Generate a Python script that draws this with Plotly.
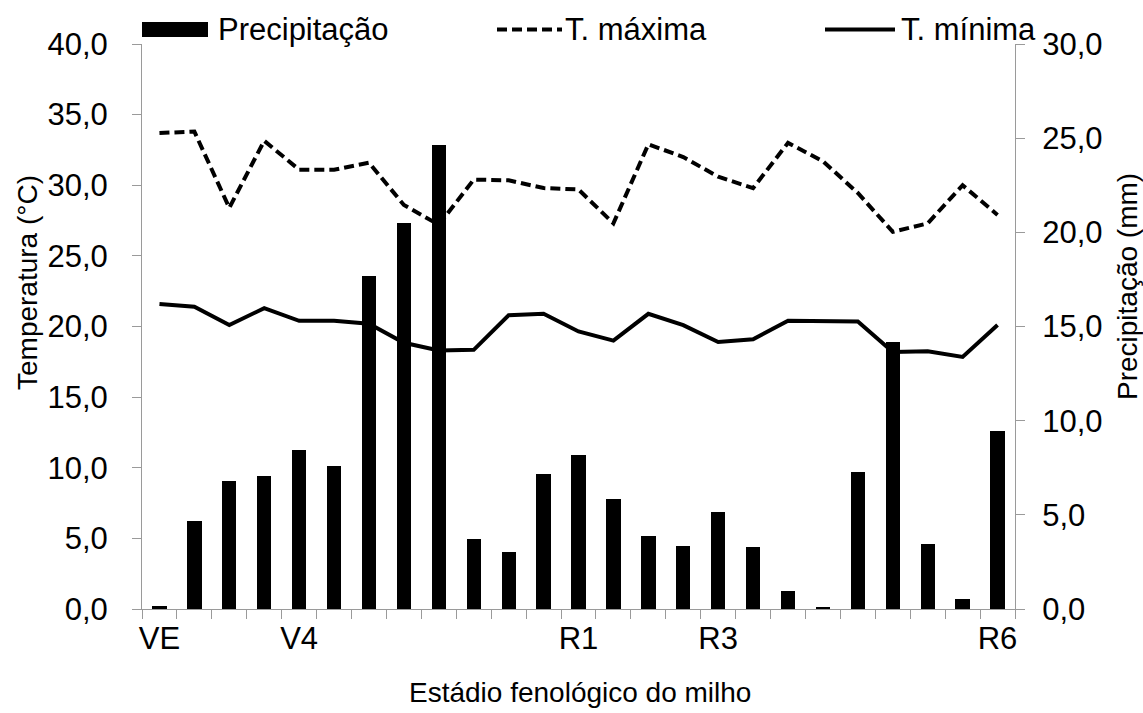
import plotly.graph_objects as go

# ---- data ----
stages = list(range(25))
tick_positions = [0, 4, 12, 16, 24]
tick_labels = ["VE", "V4", "R1", "R3", "R6"]

precipitacao = [0.15, 4.69, 6.81, 7.06, 8.42, 7.61, 17.7, 20.5, 24.65, 3.73,
                3.03, 7.17, 8.19, 5.84, 3.89, 3.36, 5.15, 3.27, 0.93, 0.1,
                7.29, 14.2, 3.47, 0.55, 9.43]
t_maxima = [33.7, 33.8, 28.4, 33.15, 31.1, 31.1, 31.6, 28.6, 27.2, 30.4,
            30.35, 29.8, 29.7, 27.3, 32.9, 32.0, 30.6, 29.8, 33.0, 31.7,
            29.45, 26.7, 27.3, 30.0, 27.9]
t_minima = [21.6, 21.4, 20.1, 21.3, 20.4, 20.4, 20.2, 18.85, 18.3, 18.35,
            20.8, 20.9, 19.65, 19.0, 20.9, 20.1, 18.9, 19.1, 20.4, 20.4,
            20.35, 18.2, 18.25, 17.85, 20.1]

FONT = "Liberation Sans, Arial, sans-serif"
FS_TICK = 31
FS_LEG = 31
FS_TITLE = 28
GRAY = "#9a9a9a"
DASH = "10px,5px"

fig = go.Figure()
fig.add_trace(go.Bar(x=stages, y=precipitacao, name="Precipitação",
                     marker=dict(color="black", line=dict(width=0)),
                     width=0.41, yaxis="y"))
fig.add_trace(go.Scatter(x=stages, y=t_maxima, name="T. máxima", mode="lines",
                         line=dict(color="black", width=4, dash=DASH), yaxis="y2"))
fig.add_trace(go.Scatter(x=stages, y=t_minima, name="T. mínima", mode="lines",
                         line=dict(color="black", width=4), yaxis="y2"))

L, R, T, B = 142, 128, 44, 104
W, H = 1143, 713
pw, ph = W - L - R, H - T - B


def px(x):
    return (x - L) / pw


def py(y):
    return (H - B - y) / ph


shapes = [
    dict(type="rect", xref="paper", yref="paper", x0=px(142), x1=px(208),
         y0=py(37), y1=py(22), fillcolor="black", line=dict(width=0)),
    dict(type="line", xref="paper", yref="paper", x0=px(497), x1=px(562),
         y0=py(29.5), y1=py(29.5), line=dict(color="black", width=4, dash=DASH)),
    dict(type="line", xref="paper", yref="paper", x0=px(825), x1=px(895),
         y0=py(29.5), y1=py(29.5), line=dict(color="black", width=4)),
]

leg_font = dict(size=FS_LEG)
title_font = dict(size=FS_TITLE)
annotations = [
    dict(text="Precipitação", xref="paper", yref="paper", x=px(216), y=py(29.5),
         xanchor="left", yanchor="middle", showarrow=False, font=leg_font),
    dict(text="T. máxima", xref="paper", yref="paper", x=px(563), y=py(29.5),
         xanchor="left", yanchor="middle", showarrow=False, font=leg_font),
    dict(text="T. mínima", xref="paper", yref="paper", x=px(899), y=py(29.5),
         xanchor="left", yanchor="middle", showarrow=False, font=leg_font),
    dict(text="Temperatura (°C)", xref="paper", yref="paper", x=px(27), y=py(283),
         xanchor="center", yanchor="middle", textangle=-90, showarrow=False,
         font=title_font),
    dict(text="Precipitação (mm)", xref="paper", yref="paper", x=px(1127), y=py(287),
         xanchor="center", yanchor="middle", textangle=-90, showarrow=False,
         font=title_font),
    dict(text="Estádio fenológico do milho", xref="paper", yref="paper",
         x=px(580), y=py(692), xanchor="center", yanchor="middle", showarrow=False,
         font=title_font),
]

fig.update_layout(
    width=W, height=H,
    margin=dict(l=L, r=R, t=T, b=B, pad=0),
    paper_bgcolor="white", plot_bgcolor="white",
    font=dict(family=FONT, size=FS_TICK, color="black"),
    separators=",.",
    showlegend=False,
    bargap=0,
    shapes=shapes,
    annotations=annotations,
    xaxis=dict(
        range=[-0.5, 24.5], tickmode="array", tickvals=tick_positions,
        ticktext=tick_labels, ticks="", showgrid=False, zeroline=False,
        showline=True, linecolor=GRAY, linewidth=1,
        ticklabelstandoff=2,
        minor=dict(tickmode="linear", tick0=-0.5, dtick=1, ticks="outside",
                   ticklen=9, tickcolor=GRAY, tickwidth=1, showgrid=False),
    ),
    yaxis=dict(
        side="right", range=[0, 30], tickmode="linear", tick0=0, dtick=5,
        tickformat=".1f", ticks="outside", ticklen=9, tickcolor=GRAY,
        showgrid=False, zeroline=False, showline=True, linecolor=GRAY,
        linewidth=1, ticklabelstandoff=11,
    ),
    yaxis2=dict(
        side="left", overlaying="y", range=[0, 40], tickmode="linear", tick0=0,
        dtick=5, tickformat=".1f", ticks="outside", ticklen=9, tickcolor=GRAY,
        showgrid=False, zeroline=False, showline=True, linecolor=GRAY,
        linewidth=1, ticklabelstandoff=18,
    ),
)

fig.write_html("out.html", config={"displayModeBar": False},
               post_script="document.body.style.margin='0';")
